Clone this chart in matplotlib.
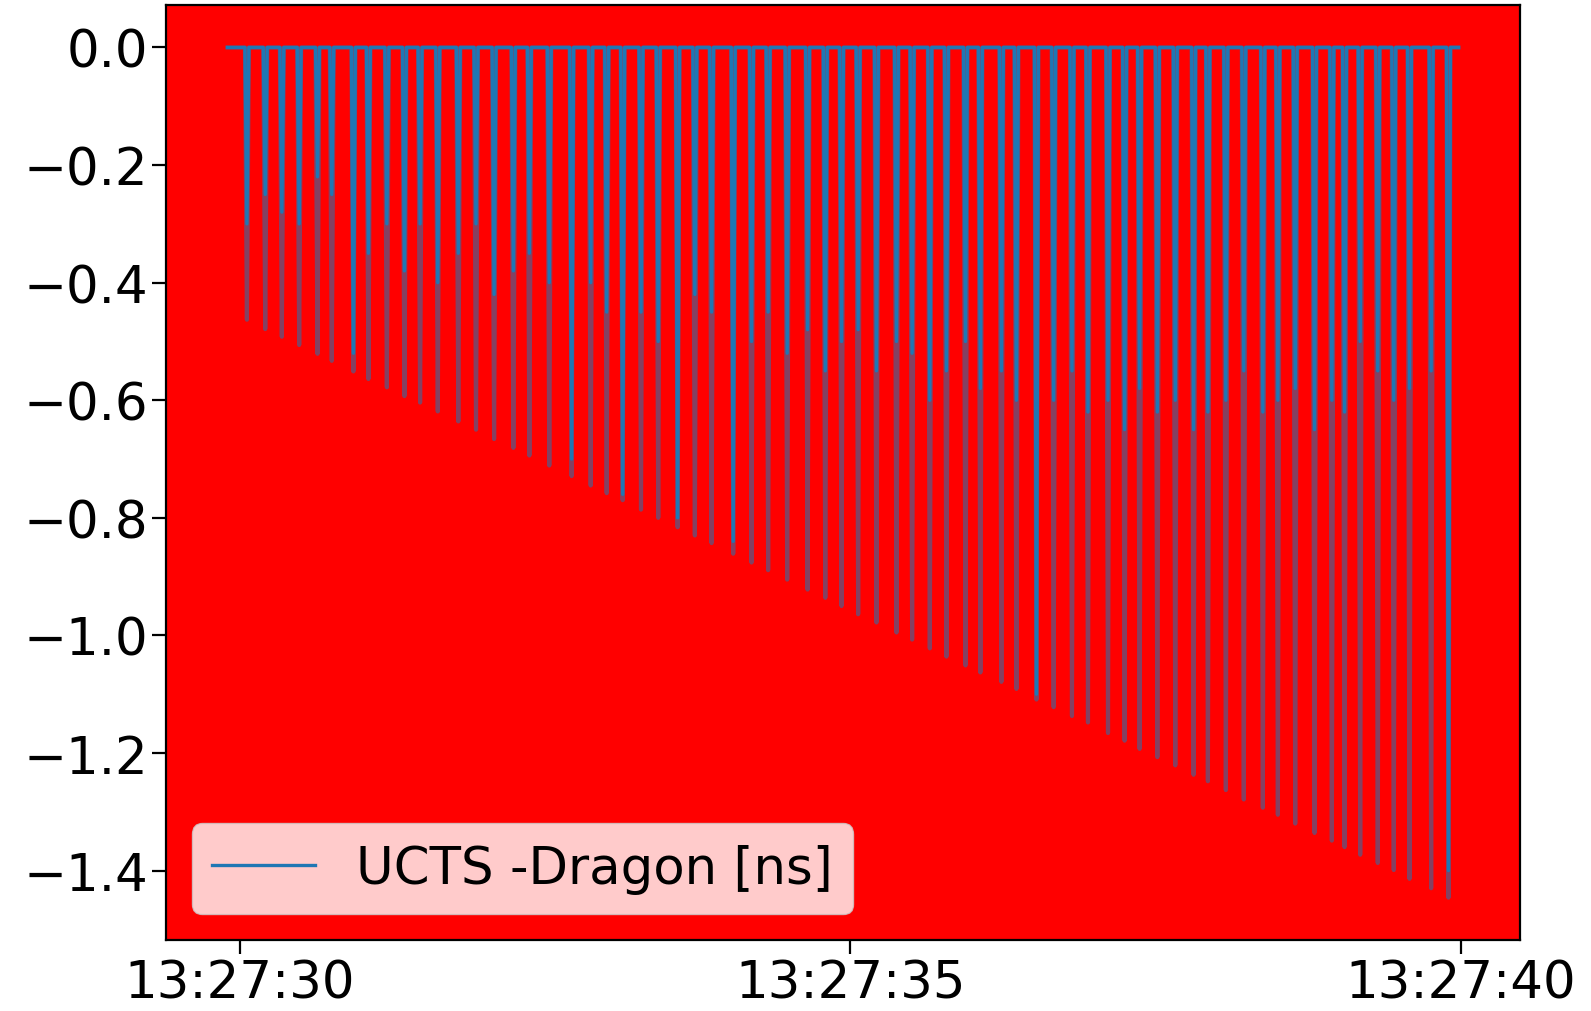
import matplotlib
matplotlib.use("Agg")
import matplotlib.pyplot as plt
import matplotlib.dates as mdates
import pandas as pd

# ---- data (seconds after 13:27:00, values in ns) ----
t_start = 29.90
t_end = 39.98

spike_t = [30.059, 30.209, 30.345, 30.487, 30.637, 30.754, 30.931, 31.054, 31.205, 31.349,
           31.477, 31.622, 31.790, 31.935, 32.083, 32.241, 32.372, 32.535, 32.718, 32.874,
           33.005, 33.136, 33.286, 33.427, 33.586, 33.727, 33.864, 34.041, 34.191, 34.327,
           34.483, 34.650, 34.795, 34.928, 35.064, 35.214, 35.378, 35.506, 35.651, 35.787,
           35.943, 36.065, 36.237, 36.360, 36.524, 36.665, 36.815, 36.946, 37.110, 37.246,
           37.369, 37.514, 37.661, 37.811, 37.928, 38.075, 38.222, 38.378, 38.501, 38.643,
           38.801, 38.943, 39.047, 39.175, 39.319, 39.450, 39.579, 39.756, 39.898]

spike_tip = [-0.463, -0.479, -0.492, -0.506, -0.521, -0.533, -0.551, -0.564, -0.578, -0.593,
             -0.604, -0.619, -0.636, -0.650, -0.666, -0.681, -0.694, -0.711, -0.729, -0.745,
             -0.758, -0.770, -0.786, -0.800, -0.816, -0.830, -0.843, -0.861, -0.876, -0.889,
             -0.905, -0.922, -0.936, -0.950, -0.964, -0.978, -0.995, -1.007, -1.022, -1.036,
             -1.051, -1.063, -1.079, -1.091, -1.109, -1.122, -1.137, -1.148, -1.166, -1.179,
             -1.193, -1.207, -1.221, -1.237, -1.248, -1.263, -1.279, -1.293, -1.305, -1.320,
             -1.336, -1.349, -1.360, -1.373, -1.387, -1.399, -1.414, -1.430, -1.446]

spike_core = [-0.30, -0.25, -0.28, -0.30, -0.22, -0.25, -0.52, -0.35, -0.30, -0.38,
              -0.30, -0.40, -0.35, -0.30, -0.42, -0.38, -0.35, -0.40, -0.70, -0.40,
              -0.45, -0.76, -0.45, -0.50, -0.80, -0.42, -0.45, -0.84, -0.50, -0.45,
              -0.52, -0.48, -0.55, -0.50, -0.48, -0.55, -0.50, -0.52, -0.60, -0.55,
              -0.50, -0.58, -0.55, -0.60, -1.10, -0.60, -0.55, -0.62, -0.60, -0.65,
              -0.58, -0.62, -0.60, -0.65, -0.62, -0.60, -0.55, -0.62, -0.60, -0.58,
              -0.65, -0.60, -0.62, -0.50, -0.55, -0.60, -0.58, -0.55, -1.40]

tick_labels = ["13:27:30", "13:27:35", "13:27:40"]
series_label = "UCTS -Dragon [ns]"

# ---- build series ----
day = "2020-01-01"
base = pd.Timestamp(day + " 13:27:00")
half_w = 0.016


def build(depths):
    xs = [t_start]
    ys = [0.0]
    for t, d in zip(spike_t, depths):
        xs += [t - half_w, t, t + half_w]
        ys += [0.0, d, 0.0]
    xs.append(t_end)
    ys.append(0.0)
    x_dt = (base + pd.to_timedelta(xs, unit="s")).to_numpy()
    return x_dt, ys


x_tip, y_tip = build(spike_tip)
x_core, y_core = build(spike_core)

# ---- figure ----
plt.rcParams["font.family"] = ["DejaVu Sans"]
fig = plt.figure(figsize=(15.91, 10.12), dpi=100)
ax = fig.add_axes([0.1043, 0.0700, 0.8511, 0.9241])
ax.set_facecolor("red")

ax.plot(x_tip, y_tip, color="#1f77b4", lw=3.0, alpha=0.55)
ax.plot(x_core, y_core, color="#1f77b4", lw=2.4, label=series_label)

ticks = pd.to_datetime([day + " " + s for s in tick_labels]).to_numpy()
ax.set_xticks(ticks)
ax.xaxis.set_major_formatter(mdates.DateFormatter("%H:%M:%S"))

ax.tick_params(axis="both", labelsize=37, length=10, width=1.6, pad=3)
for sp in ax.spines.values():
    sp.set_linewidth(1.6)

ax.legend(loc="lower left", fontsize=37)

fig.savefig("out.png", dpi=100)
